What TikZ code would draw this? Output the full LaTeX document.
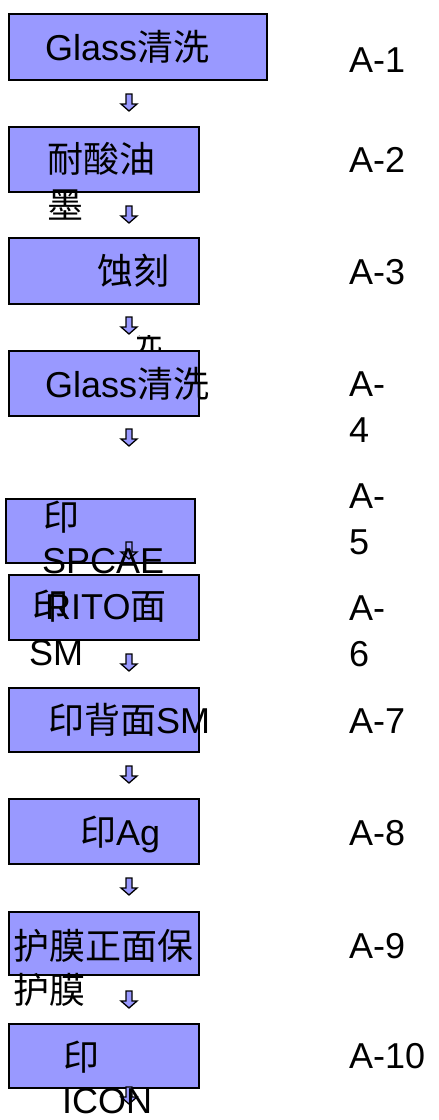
\documentclass[tikz,border=0pt]{standalone}
\usepackage{fontspec}
\setmainfont{Liberation Sans}
\newfontfamily\cjk{Noto Sans CJK SC}
\definecolor{boxfill}{HTML}{9999FF}
\tikzset{
  procbox/.style={draw=black, line width=1.8pt, fill=boxfill, anchor=north west, inner sep=0pt},
  txt/.style={anchor=base west, inner sep=0pt, font=\fontsize{36}{44}\selectfont},
  dnarrow/.style={draw=black, line width=1.3pt, fill=boxfill, line join=miter},
}
\newcommand\blockarrow[1]{\draw[dnarrow] (#1) ++(-3,0) -- ++(6,0) -- ++(0,10) -- ++(5,0) -- ++(-8,7) -- ++(-8,-7) -- ++(5,0) -- cycle;}
\begin{document}
\begin{tikzpicture}[x=1pt,y=-1pt]
\useasboundingbox (0,0) rectangle (439,1120);
% partly hidden glyph above box 4
\begin{scope}
\clip (137,335) rectangle (178,351);
\node[txt] (tpart) at (126,352) {\cjk 洗};
\end{scope}
% boxes
\node[procbox, minimum width=258pt, minimum height=66pt] (b1) at (8,13) {};
\node[procbox, minimum width=190pt, minimum height=65pt] (b2) at (8,126) {};
\node[procbox, minimum width=190pt, minimum height=66pt] (b3) at (8,237) {};
\node[procbox, minimum width=190pt, minimum height=65pt] (b4) at (8,350) {};
\node[procbox, minimum width=189pt, minimum height=64pt] (b5) at (5,498) {};
\node[procbox, minimum width=190pt, minimum height=65pt] (b6) at (8,574) {};
\node[procbox, minimum width=190pt, minimum height=64pt] (b7) at (8,687) {};
\node[procbox, minimum width=190pt, minimum height=65pt] (b8) at (8,798) {};
\node[procbox, minimum width=190pt, minimum height=63pt] (b9) at (8,911) {};
\node[procbox, minimum width=190pt, minimum height=64pt] (b10) at (8,1023) {};
% arrows
\coordinate (a1) at (129,94);
\coordinate (a2) at (129,206);
\coordinate (a3) at (129,317);
\coordinate (a4) at (129,429);
\coordinate (a5) at (129,542);
\coordinate (a6) at (129,654);
\coordinate (a7) at (129,766);
\coordinate (a8) at (129,878);
\coordinate (a9) at (129,991);
\coordinate (a10) at (129,1087);
\blockarrow{a1}\blockarrow{a2}\blockarrow{a3}\blockarrow{a4}\blockarrow{a5}
\blockarrow{a6}\blockarrow{a7}\blockarrow{a8}\blockarrow{a9}\blockarrow{a10}
% box texts
\node[txt] (t1) at (45,60) {Glass{\cjk 清洗}};
\node[txt] (t2a) at (47,172) {\cjk 耐酸油};
\node[txt] (t2b) at (47,218) {\cjk 墨};
\node[txt] (t3) at (97,284) {\cjk 蚀刻};
\node[txt] (t4) at (45,397) {Glass{\cjk 清洗}};
\node[txt] (t5a) at (43,530) {\cjk 印};
\node[txt] (t5b) at (42,573) {SPCAE};
\node[txt] (t6a) at (32,619) {\cjk 印};
\node[txt] (t6b) at (45,619) {RITO{\cjk 面}};
\node[txt] (t6c) at (29,665) {SM};
\node[txt] (t7) at (48,733) {{\cjk 印背面}SM};
\node[txt] (t8) at (80,845) {{\cjk 印}Ag};
\node[txt] (t9a) at (13,959) {\cjk 护膜正面保};
\node[txt] (t9b) at (13,1003) {\cjk 护膜};
\node[txt] (t10a) at (63,1070) {\cjk 印};
\node[txt] (t10b) at (62,1113) {ICON};
% step labels
\node[txt] (l1) at (349,72) {A-1};
\node[txt] (l2) at (349,172) {A-2};
\node[txt] (l3) at (349,284) {A-3};
\node[txt] (l4a) at (349,396) {A-};
\node[txt] (l4b) at (349,442) {4};
\node[txt] (l5a) at (349,508) {A-};
\node[txt] (l5b) at (349,554) {5};
\node[txt] (l6a) at (349,620) {A-};
\node[txt] (l6b) at (349,666) {6};
\node[txt] (l7) at (349,733) {A-7};
\node[txt] (l8) at (349,845) {A-8};
\node[txt] (l9) at (349,958) {A-9};
\node[txt] (l10) at (349,1068) {A-10};
\end{tikzpicture}
\end{document}
